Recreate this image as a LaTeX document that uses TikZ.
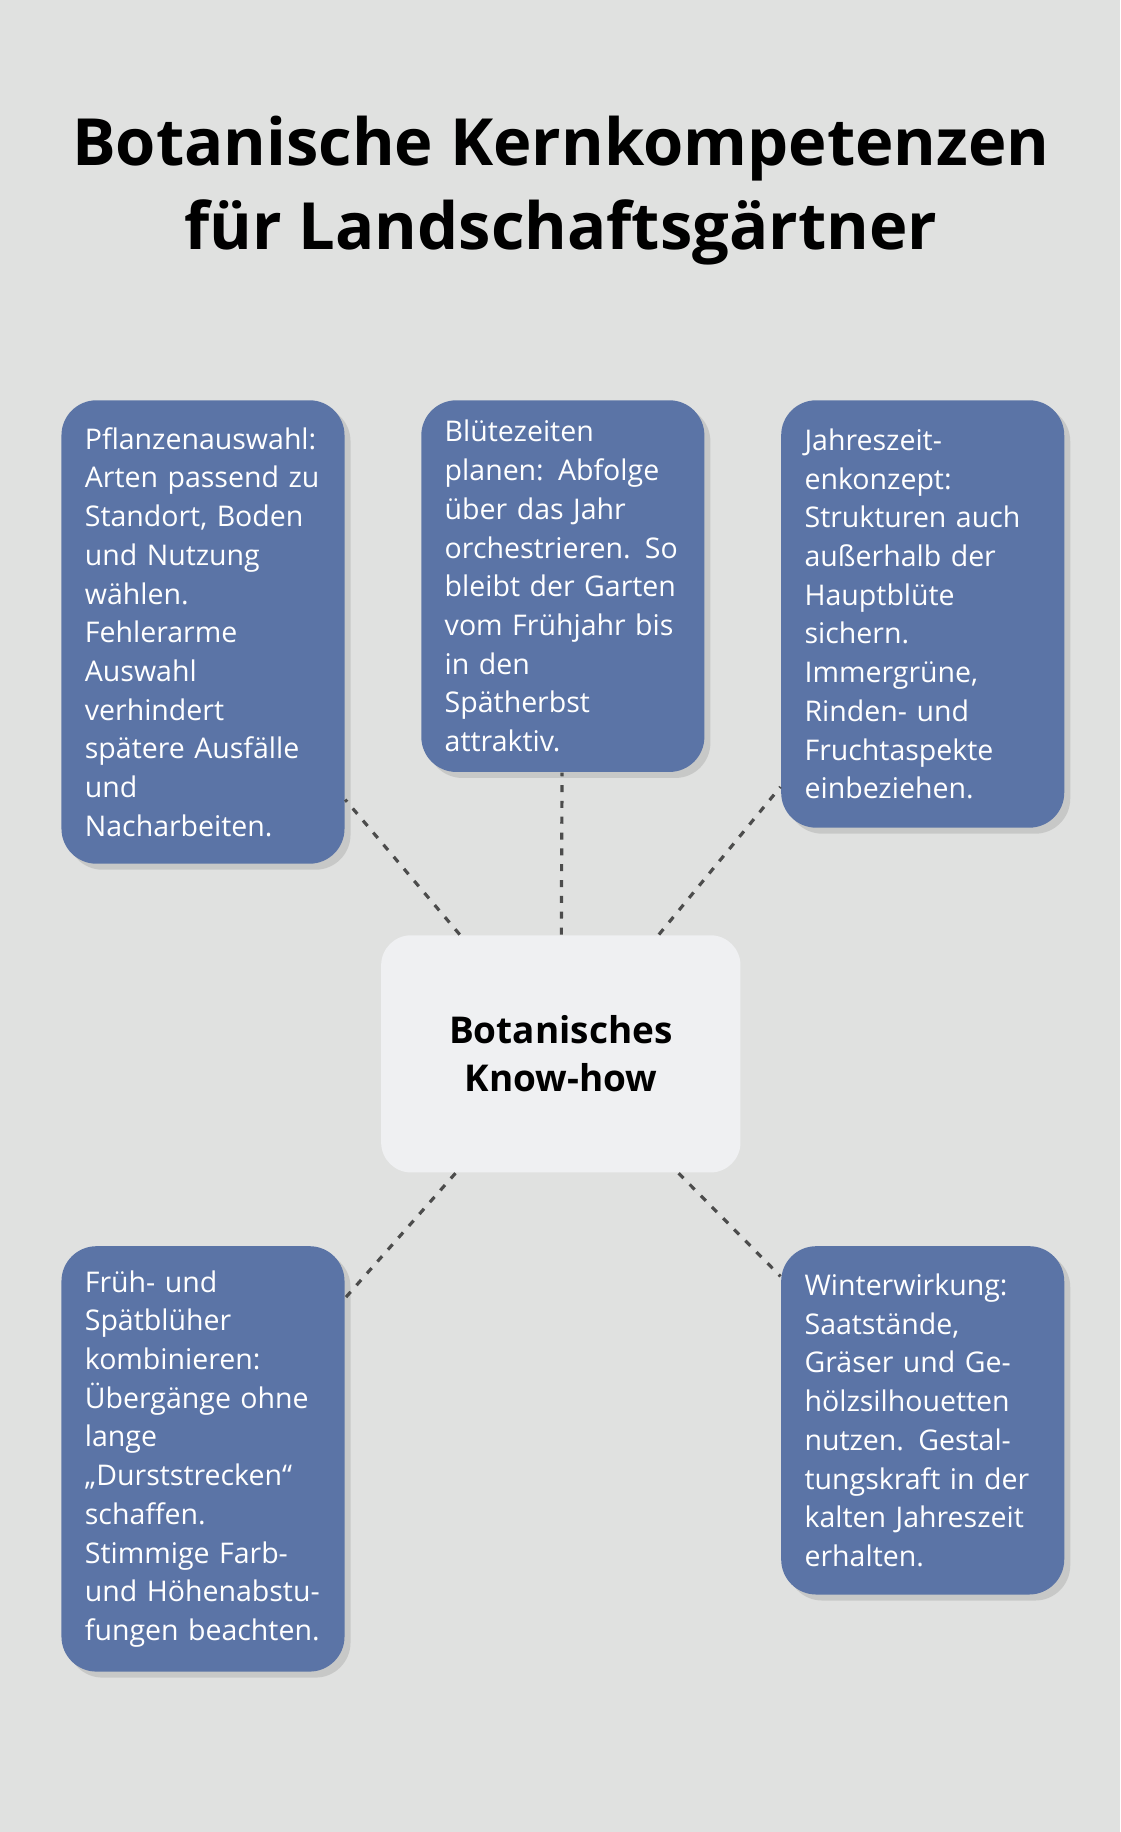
\documentclass[tikz,border=0pt]{standalone}
\usepackage{fontspec}
\setmainfont{Open Sans}
\usetikzlibrary{shadows}
\definecolor{bgcol}{HTML}{E0E1E0}
\definecolor{boxcol}{HTML}{5B74A6}
\definecolor{hubcol}{HTML}{EFF0F2}
\tikzset{
  card/.style={draw=none,fill=boxcol,text=white,rounded corners=0.35cm,
    anchor=north west,align=left,text width=2.36cm,inner xsep=0.234cm,
    inner ysep=0.2cm,minimum width=2.78cm,
    font=\fontsize{8.1pt}{11pt}\selectfont,
    drop shadow={shadow xshift=0.06cm,shadow yshift=-0.06cm,opacity=0.25}},
  hub/.style={draw=none,fill=hubcol,rounded corners=0.3cm,align=center,
    minimum width=3.59cm,minimum height=2.37cm,
    font=\fontsize{10.5pt}{13.6pt}\selectfont\bfseries},
  link/.style={draw=black!70,dashed,dash pattern=on 2pt off 2.5pt,line width=0.9pt}
}
\begin{document}
\begin{tikzpicture}[x=0.011679cm,y=-0.011679cm]
\fill[bgcol] (0,0) rectangle (959,1568);
\node[font=\fontsize{18.5pt}{24pt}\selectfont\bfseries,align=center] (title) at (480,163)
  {Botanische Kernkompetenzen\\für Landschaftsgärtner};

\node[hub] (know) at (480,902) {Botanisches\\Know-how};

\node[card,minimum height=4.63cm] (plants) at (52,342) {Pflanzenauswahl:\\Arten passend zu\\Standort, Boden\\und Nutzung\\wählen.\\Fehlerarme\\Auswahl\\verhindert\\spätere Ausfälle\\und\\Nacharbeiten.};
\node[card,minimum height=3.48cm] (bloom) at (360,342) {Blütezeiten\\planen: Abfolge\\über das Jahr\\orchestrieren. So\\bleibt der Garten\\vom Frühjahr bis\\in den Spätherbst\\attraktiv.};
\node[card,minimum height=4.27cm] (season) at (668,342) {Jahreszeit-\\enkonzept:\\Strukturen auch\\außerhalb der\\Hauptblüte\\sichern.\\Immergrüne,\\Rinden- und\\Fruchtaspekte\\einbeziehen.};
\node[card,minimum height=4.25cm] (early) at (52,1066) {Früh- und\\Spätblüher\\kombinieren:\\Übergänge ohne\\lange\\„Durststrecken“\\schaffen.\\Stimmige Farb-\\und Höhenabstu-\\fungen beachten.};
\node[card,minimum height=3.48cm] (winter) at (668,1066) {Winterwirkung:\\Saatstände,\\Gräser und Ge-\\hölzsilhouetten\\nutzen. Gestal-\\tungskraft in der\\kalten Jahreszeit\\erhalten.};

% Verbindungen
\draw[link] (know) -- (plants);
\draw[link] (know) -- (bloom);
\draw[link] (know) -- (season);
\draw[link] (know) -- (early);
\draw[link] (know) -- (winter);
\end{tikzpicture}
\end{document}
